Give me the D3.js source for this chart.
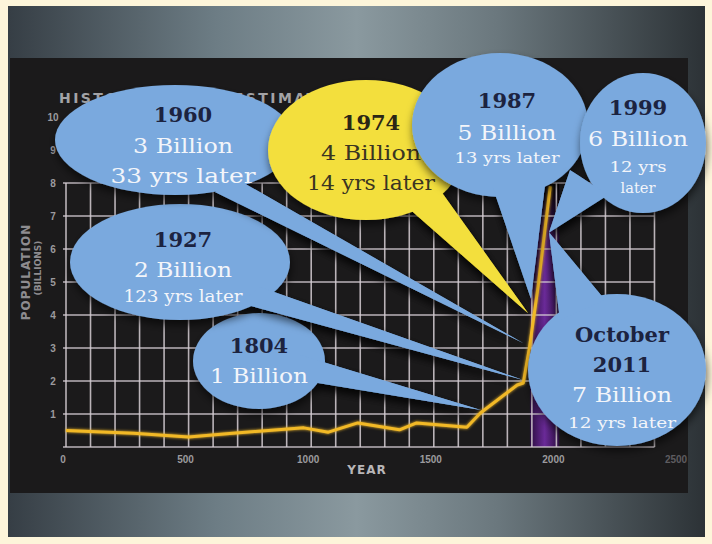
<!DOCTYPE html>
<html><head><meta charset="utf-8">
<script src="https://cdn.jsdelivr.net/npm/d3@7"></script>
<style>html,body{margin:0;padding:0;background:#fdf5da;}svg{display:block;}</style>
</head><body>
<svg id="chart" width="712" height="544"></svg>
<script>
// ---------- data ----------
const years = [0, 275, 500, 680, 970, 1070, 1190, 1360, 1430, 1635, 1690, 1840, 1865, 1890, 1925, 1955, 1975];
const population = [0.5, 0.42, 0.3, 0.42, 0.58, 0.45, 0.73, 0.52, 0.73, 0.6, 1.03, 1.88, 1.94, 3.0, 4.85, 6.7, 7.9];
const xTicks = [0, 500, 1000, 1500, 2000, 2500];
const yTicks = [1, 2, 3, 4, 5, 6, 7, 8, 9, 10];
const bandYears = [1892, 2012];
const milestoneYear = ["1804", "1927", "1960", "1974", "1987", "1999", "2011"];
const milestoneMonth = ["", "", "", "", "", "", "October"];
const milestonePop = ["1 Billion", "2 Billion", "3 Billion", "4 Billion", "5 Billion", "6 Billion", "7 Billion"];
const milestoneGap = ["", "123 yrs later", "33 yrs later", "14 yrs later", "13 yrs later", "12 yrs later", "12 yrs later"];
const tipYear = [1692, 1864, 1864, 1884, 1896, 1970, 1970];
const tipValue = [1.12, 2.03, 3.15, 4.06, 4.5, 6.5, 6.5];

// ---------- setup ----------
const svg = d3.select("#chart");
const x = d3.scaleLinear().domain([0, 2500]).range([66, 679]);
const y = d3.scaleLinear().domain([0, 10]).range([447, 117]);
const defs = svg.append("defs");

const g1 = defs.append("linearGradient").attr("id", "bgGrad").attr("x1", 0).attr("x2", 1).attr("y1", 0).attr("y2", 0);
[[0, "#363e45"], [0.3, "#6d7d85"], [0.5, "#8a999f"], [0.7, "#6b787e"], [1, "#2c3236"]].forEach(s => g1.append("stop").attr("offset", s[0]).attr("stop-color", s[1]));
const g2 = defs.append("linearGradient").attr("id", "bandGrad").attr("x1", 0).attr("x2", 1);
[[0, "#2a0d3e"], [0.5, "#6a2a98"], [1, "#2a0d3e"]].forEach(s => g2.append("stop").attr("offset", s[0]).attr("stop-color", s[1]));
const g3 = defs.append("linearGradient").attr("id", "bandFade").attr("x1", 0).attr("x2", 0).attr("y1", 0).attr("y2", 1);
[[0, "#000", 1], [0.25, "#000", 0], [1, "#000", 0]].forEach(s => g3.append("stop").attr("offset", s[0]).attr("stop-color", s[1]).attr("stop-opacity", s[2]));
const sh = defs.append("filter").attr("id", "shadow").attr("x", "-30%").attr("y", "-30%").attr("width", "160%").attr("height", "170%");
sh.append("feDropShadow").attr("dx", 1).attr("dy", 5).attr("stdDeviation", 4).attr("flood-color", "#000").attr("flood-opacity", 0.6);
const glow = defs.append("filter").attr("id", "glow").attr("x", "-20%").attr("y", "-20%").attr("width", "140%").attr("height", "140%");
glow.append("feGaussianBlur").attr("stdDeviation", 1.5).attr("result", "b");
const fm = glow.append("feMerge"); fm.append("feMergeNode").attr("in", "b"); fm.append("feMergeNode").attr("in", "SourceGraphic");

// ---------- backgrounds ----------
svg.append("rect").attr("x", 8).attr("y", 6).attr("width", 697).attr("height", 531).attr("fill", "url(#bgGrad)");
svg.append("rect").attr("x", 10).attr("y", 58).attr("width", 678).attr("height", 435).attr("fill", "#1b1a1b");

// title (mostly hidden behind the callouts, as in the original)
svg.append("text").attr("x", 59).attr("y", 103).attr("textLength", 283).attr("lengthAdjust", "spacing")
  .attr("font-family", "DejaVu Sans").attr("font-weight", "bold").attr("font-size", 14).attr("fill", "#a3a3a6")
  .text("HISTORICAL AND ESTIMATED");

// band
svg.append("rect").attr("x", x(bandYears[0])).attr("width", x(bandYears[1]) - x(bandYears[0]))
  .attr("y", y(8)).attr("height", y(0) - y(8)).attr("fill", "url(#bandGrad)");
svg.append("rect").attr("x", x(bandYears[0])).attr("width", x(bandYears[1]) - x(bandYears[0]))
  .attr("y", y(8)).attr("height", y(0) - y(8)).attr("fill", "url(#bandFade)");

// grid
const gridYears = d3.range(0, 2401, 100);
svg.append("g").selectAll("line").data(gridYears).join("line")
  .attr("x1", d => x(d)).attr("x2", d => x(d)).attr("y1", y(0)).attr("y2", y(8))
  .attr("stroke", "#d6ced4").attr("stroke-width", 1.6).attr("opacity", 0.85);
svg.append("g").selectAll("line").data(d3.range(0, 9)).join("line")
  .attr("x1", x(0) - 3).attr("x2", x(2400)).attr("y1", d => y(d)).attr("y2", d => y(d))
  .attr("stroke", "#d6ced4").attr("stroke-width", 1.6).attr("opacity", 0.85);

// axes labels
const tickFont = "Liberation Sans";
svg.append("g").selectAll("text").data(xTicks).join("text")
  .attr("x", d => x(d) - 3).attr("y", 463).attr("text-anchor", "middle")
  .attr("font-family", tickFont).attr("font-weight", "bold").attr("font-size", 10)
  .attr("fill", d => d === 2500 ? "#5e5c60" : "#9c9a9e").text(d => d);
svg.append("g").selectAll("text").data(yTicks).join("text")
  .attr("x", 53).attr("y", d => y(d) + 4).attr("text-anchor", "middle")
  .attr("font-family", tickFont).attr("font-weight", "bold").attr("font-size", 10)
  .attr("fill", "#9c9a9e").text(d => d);
svg.append("text").attr("x", 367).attr("y", 474).attr("text-anchor", "middle")
  .attr("font-family", "DejaVu Sans").attr("font-weight", "bold").attr("font-size", 12).attr("letter-spacing", 1)
  .attr("fill", "#b8b6b8").text("YEAR");
svg.append("text").attr("transform", "translate(30,272) rotate(-90)").attr("text-anchor", "middle")
  .attr("font-family", "DejaVu Sans").attr("font-weight", "bold").attr("font-size", 12).attr("letter-spacing", 1)
  .attr("fill", "#8e8c90").text("POPULATION");
svg.append("text").attr("transform", "translate(41,268) rotate(-90)").attr("text-anchor", "middle")
  .attr("font-family", "DejaVu Sans").attr("font-weight", "bold").attr("font-size", 9)
  .attr("fill", "#8e8c90").text("(BILLIONS)");

// ---------- callouts layout ----------
const BLUE = "#7aa9de", YELLOW = "#f3df3d";
const layout = [
  {cx: 259, cy: 361, rx: 66, ry: 48, base: [[300, 355], [300, 380]], fill: BLUE, tx: 259,
   lines: [["year", 353, 21, 0], ["pop", 383, 21, 98]]},
  {cx: 180, cy: 262, rx: 110, ry: 58, base: [[260, 287], [240, 303]], fill: BLUE, tx: 183,
   lines: [["year", 247, 21, 0], ["pop", 277, 21, 98], ["gap", 302, 16, 119]]},
  {cx: 175, cy: 140, rx: 120, ry: 55, base: [[235, 178], [215, 192]], fill: BLUE, tx: 183,
   lines: [["year", 122, 21, 0], ["pop", 153, 21, 100], ["gap", 183, 20, 145]]},
  {cx: 366, cy: 150, rx: 98, ry: 70, base: [[405, 205], [440, 190]], fill: YELLOW, tx: 371,
   lines: [["year", 130, 21, 0], ["pop", 160, 21, 100], ["gap", 190, 20, 128]]},
  {cx: 500, cy: 125, rx: 88, ry: 72, base: [[492, 185], [545, 185]], fill: BLUE, tx: 507,
   lines: [["year", 108, 21, 0], ["pop", 140, 21, 99], ["gap", 163, 15, 105]]},
  {cx: 643, cy: 143, rx: 63, ry: 70, base: [[570, 170], [608, 195]], fill: BLUE, tx: 638,
   lines: [["year", 115, 21, 0], ["pop", 146, 21, 100], ["gap0", 172, 15, 57], ["gap1", 193, 15, 35]]},
  {cx: 617, cy: 370, rx: 89, ry: 76, base: [[560, 320], [605, 300]], fill: BLUE, tx: 622,
   lines: [["month", 342, 21, 0], ["year", 372, 21, 0], ["pop", 402, 21, 100], ["gap", 428, 15, 108]]}
];

function lineText(kind, i) {
  if (kind === "year") return milestoneYear[i];
  if (kind === "month") return milestoneMonth[i];
  if (kind === "pop") return milestonePop[i];
  if (kind === "gap") return milestoneGap[i];
  const parts = milestoneGap[i].split(" ");
  return kind === "gap0" ? parts.slice(0, 2).join(" ") : parts.slice(2).join(" ");
}

// tails layer
const tails = svg.append("g").attr("filter", "url(#shadow)");
layout.forEach((L, i) => {
  const tip = [x(tipYear[i]), y(tipValue[i])];
  tails.append("path").attr("d", d3.line()([L.base[0], tip, L.base[1]]) + "Z").attr("fill", L.fill);
});

// population line
svg.append("path").datum(years.map((d, i) => [d, population[i]]))
  .attr("d", d3.line().x(d => x(d[0])).y(d => y(d[1])))
  .attr("fill", "none").attr("stroke", "#f2b928").attr("stroke-width", 3)
  .attr("stroke-linejoin", "round").attr("filter", "url(#glow)");

// bubbles
layout.forEach((L, i) => {
  const g = svg.append("g");
  const tip = [x(tipYear[i]), y(tipValue[i])];
  const shape = g.append("g").attr("filter", "url(#shadow)");
  shape.append("ellipse").attr("cx", L.cx).attr("cy", L.cy).attr("rx", L.rx).attr("ry", L.ry).attr("fill", L.fill);
  shape.append("path").attr("d", d3.line()([L.base[0], tip, L.base[1]]) + "Z").attr("fill", L.fill);
  const dark = L.fill === YELLOW;
  L.lines.forEach(([kind, ty, fs, w]) => {
    const bold = kind === "year" || kind === "month";
    const t = g.append("text").attr("x", L.tx).attr("y", ty).attr("text-anchor", "middle")
      .attr("font-family", "DejaVu Serif").attr("font-size", fs)
      .attr("font-weight", bold ? "bold" : "normal")
      .attr("fill", bold ? (dark ? "#2a2616" : "#1c2340") : (dark ? "#3a3522" : "#f3f5fa"))
      .text(lineText(kind, i));
    if (w) t.attr("textLength", w).attr("lengthAdjust", "spacingAndGlyphs");
  });
});
</script>
</body></html>
